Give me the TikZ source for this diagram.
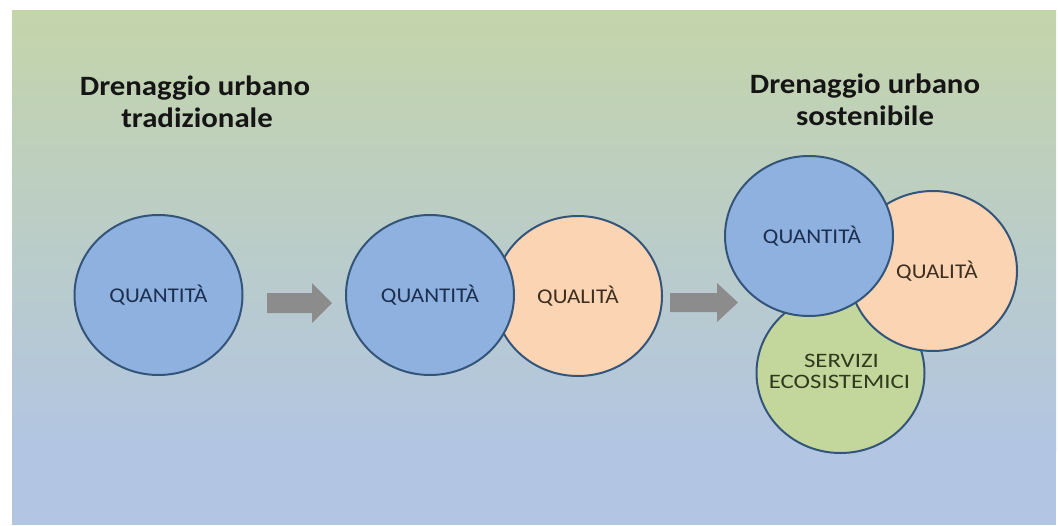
\documentclass[tikz,border=0pt]{standalone}
\usepackage{fontspec}
\setmainfont[FakeStretch=1.1]{Carlito}
\newfontfamily\ecofont[FakeStretch=1.21]{Carlito}
\usetikzlibrary{shapes.geometric}
\definecolor{bgtop}{HTML}{C4D5AA}
\definecolor{bgmid}{HTML}{B8CCC2}
\definecolor{bgbot}{HTML}{B2C5E3}
\definecolor{qblue}{HTML}{8EB1E0}
\definecolor{peach}{HTML}{FBD4B4}
\definecolor{sage}{HTML}{C3D69C}
\definecolor{edgecol}{HTML}{34557A}
\definecolor{qtext}{HTML}{1C2F4F}
\definecolor{ltext}{HTML}{3D3020}
\definecolor{stext}{HTML}{2E3B1C}
\definecolor{ttext}{HTML}{151515}
\definecolor{arrowgray}{HTML}{8C8C8C}
\begin{document}
\begin{tikzpicture}[x=1pt,y=-1pt,
  disk/.style={ellipse, draw=edgecol, line width=2pt, minimum width=168pt, minimum height=160pt, inner sep=0pt, font=\fontsize{21}{24}\selectfont},
  titleline/.style={anchor=base, inner sep=0pt, text=ttext, font=\fontsize{28}{32}\selectfont\bfseries},
  ecoline/.style={anchor=base, inner sep=0pt, text=stext, font=\ecofont\fontsize{20.5}{22}\selectfont},
  bigarrow/.style={fill=arrowgray}]
\useasboundingbox (0,0) rectangle (1058,525);
\fill[white] (0,0) rectangle (1058,525);
\shade[top color=bgtop, middle color=bgmid, bottom color=bgbot] (12,10) rectangle (1056,452);
\fill[bgbot] (12,451.5) rectangle (1056,525);

% titles
\node[titleline] (t1a) at (195,95) {Drenaggio urbano};
\node[titleline] (t1b) at (197,127) {tradizionale};
\node[titleline] (t2a) at (865,93) {Drenaggio urbano};
\node[titleline] (t2b) at (865,125) {sostenibile};

% first stage
\node[disk, fill=qblue, text=qtext] (q1) at (158.5,295) {QUANTITÀ};

% second stage
\node[disk, fill=peach, text=ltext] (l2) at (578,296) {QUALITÀ};
\node[disk, fill=qblue, text=qtext] (q2) at (430,295) {QUANTITÀ};

% third stage
\node[disk, fill=sage] (s3) at (840.5,373) {};
\node[ecoline] (s3a) at (841.5,367) {SERVIZI};
\node[ecoline] (s3b) at (839.5,388) {ECOSISTEMICI};
\node[disk, fill=peach, text=ltext] (l3) at (933,271) {\hspace*{8pt}QUALITÀ};
\node[disk, fill=qblue, text=qtext] (q3) at (809,236) {\hspace*{6pt}QUANTITÀ};

% arrows
\fill[bigarrow] (267,293) -- (312,293) -- (312,283) -- (332,303) -- (312,323) -- (312,313) -- (267,313) -- cycle;
\fill[bigarrow] (670,293) -- (717,293) -- (717,283) -- (738,302.5) -- (717,322) -- (717,312) -- (670,312) -- cycle;
\end{tikzpicture}
\end{document}
